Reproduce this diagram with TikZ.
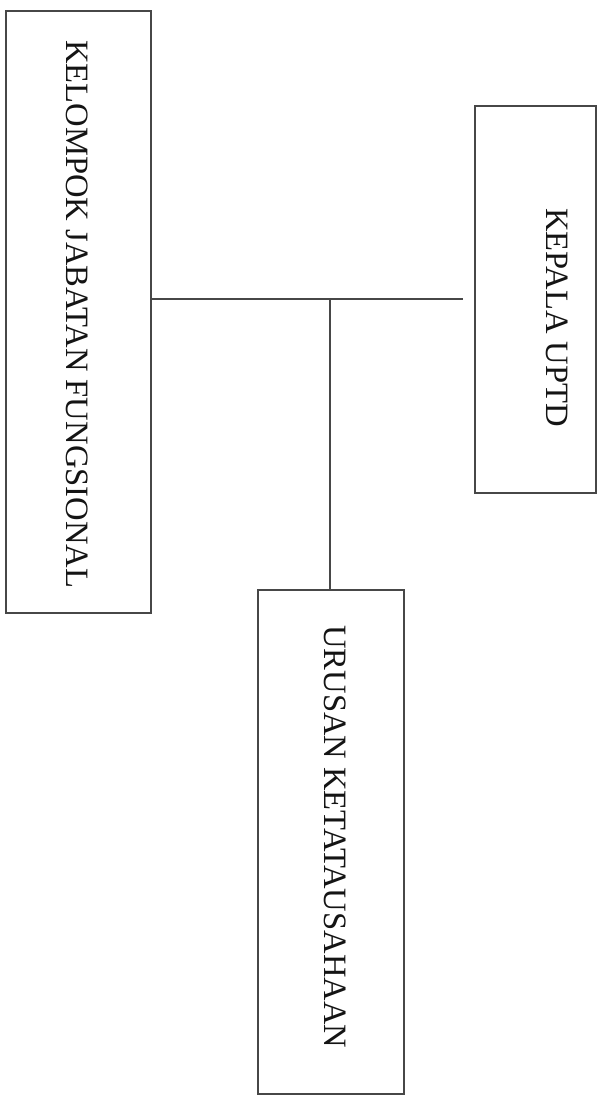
\documentclass[tikz,border=0pt]{standalone}
\usepackage{fontspec}
\setmainfont{Liberation Serif}
\begin{document}
\begin{tikzpicture}[x=1pt,y=1pt,
  orgbox/.style={draw=black!72, line width=1.6pt, fill=none},
  vlabel/.style={rotate=-90, anchor=west, inner sep=0pt, text height=0.66em, text depth=0pt,
    font=\fontsize{32.6}{38}\selectfont, text=black!92},
  link/.style={draw=black!72, line width=1.6pt}]
\useasboundingbox[fill=white] (0,0) rectangle (605,-1103);
% boxes
\node[orgbox, minimum width=145pt, minimum height=602pt, anchor=north west] (kjf) at (5,-10) {};
\node[orgbox, minimum width=121pt, minimum height=387pt, anchor=north west] (kep) at (474,-105) {};
\node[orgbox, minimum width=146pt, minimum height=504pt, anchor=north west] (uk) at (257,-589) {};
% labels
\node[vlabel] (kjft) at (70,-40) {KELOMPOK JABATAN FUNGSIONAL};
\node[vlabel] (kept) at (549.5,-208) {KEPALA UPTD};
\node[vlabel] (ukt) at (327.5,-625) {URUSAN KETATAUSAHAAN};
% connectors
\coordinate (j) at (330,-299);
\coordinate (hend) at (463,-299);
\draw[link] (kjf.east |- j) -- (hend);
\draw[link] (j) -- (uk.north -| j);
\end{tikzpicture}
\end{document}
